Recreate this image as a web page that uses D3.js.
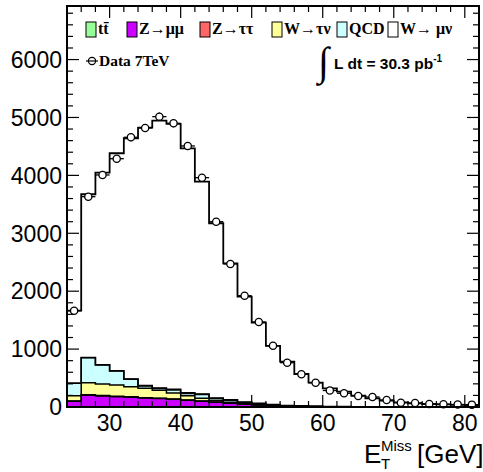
<!DOCTYPE html>
<html><head><meta charset="utf-8">
<script src="https://cdn.jsdelivr.net/npm/d3@7"></script>
<style>body{margin:0;background:#fff}svg{display:block}</style>
</head><body>
<svg id="c" width="483" height="472"></svg>
<script>
// ---- data (bins of 2 GeV from 24 to 82) ----
const binEdges = d3.range(24, 84, 2);
const xTicks = [30, 40, 50, 60, 70, 80];
const yTicks = [0, 1000, 2000, 3000, 4000, 5000, 6000];
const zmumu   = [100,205,190,178,168,155,145,132,118,100,82,65,48,35,22,14,9,6,4,3,2,2,1,1,1,0,0,0,0];
const ztautau = [4,8,8,7,7,6,6,5,5,4,3,3,2,2,1,1,1,1,0,0,0,0,0,0,0,0,0,0,0];
const wtaunu  = [91,207,199,195,175,162,139,103,72,46,27,14,14,8,5,3,2,1,1,1,1,0,1,0,0,1,0,0,0];
const qcd     = [215,431,328,242,128,40,28,55,40,65,33,33,14,13,8,4,3,2,1,1,1,1,0,1,0,0,1,1,1];
const ttbar   = [2,4,5,6,7,8,9,10,11,11,11,10,9,8,7,6,5,4,3,3,2,2,2,1,1,1,1,1,1];
const wmunu   = [1251,2819,3317,3754,4156,4453,4618,4583,4222,3665,3017,2357,1818,1390,1011,754,550,406,314,256,189,145,105,78,62,50,42,36,30];
const dataObs = [1663,3632,4007,4288,4658,4819,5014,4900,4508,3960,3200,2470,1922,1468,1059,765,565,420,285,237,190,173,121,74,69,52,47,43,41];
const legendLabels = ["tt\u0304", "Z\u2192\u03bc\u03bc", "Z\u2192\u03c4\u03c4", "W\u2192\u03c4\u03bd", "QCD", "W\u2192 \u03bc\u03bd"];

// ---- layout ----
const L = 67, R = 479, T = 6, B = 407;
const svg = d3.select("#c");
const x = d3.scaleLinear().domain([24, 82]).range([L, R]);
const y = d3.scaleLinear().domain([0, 6925]).range([B, T]);

const keys = ["zmumu","ztautau","wtaunu","qcd","ttbar","wmunu"];
const colors = {zmumu:"#cc00ff", ztautau:"#ff6666", wtaunu:"#ffff99", qcd:"#ccffff", ttbar:"#99ff99", wmunu:"#ffffff"};
const series = {zmumu, ztautau, wtaunu, qcd, ttbar, wmunu};
const rows = dataObs.map((d, i) => {
  const r = {i};
  keys.forEach(k => r[k] = series[k][i]);
  return r;
});
const stacked = d3.stack().keys(keys)(rows);

function stepPts(layer, acc) {
  const pts = [];
  layer.forEach((d, i) => {
    pts.push([binEdges[i], acc(d)]);
    pts.push([binEdges[i + 1], acc(d)]);
  });
  return pts;
}

const g = svg.append("g");
stacked.slice().reverse().forEach(layer => {
  const key = layer.key;
  const pts = stepPts(layer, d => d[1]);
  const area = d3.area().x(p => x(p[0])).y0(y(0)).y1(p => y(p[1]));
  g.append("path").attr("d", area(pts)).attr("fill", colors[key]).attr("stroke", "none");
});
stacked.forEach(layer => {
  const pts = stepPts(layer, d => d[1]);
  const line = d3.line().x(p => x(p[0])).y(p => y(p[1]));
  g.append("path").attr("d", line(pts)).attr("fill", "none")
    .attr("stroke", "#000").attr("stroke-width", layer.key === "wmunu" ? 1.8 : 1.5);
});

// data points
const pg = svg.append("g");
dataObs.forEach((v, i) => {
  const cx = x(binEdges[i] + 1), cy = y(v);
  const err = Math.sqrt(v);
  pg.append("line").attr("x1", x(binEdges[i])).attr("x2", x(binEdges[i + 1]))
    .attr("y1", cy).attr("y2", cy).attr("stroke", "#000").attr("stroke-width", 1.3);
  pg.append("line").attr("x1", cx).attr("x2", cx).attr("y1", y(v - err)).attr("y2", y(v + err))
    .attr("stroke", "#000").attr("stroke-width", 1.3);
  pg.append("circle").attr("cx", cx).attr("cy", cy).attr("r", 3.6)
    .attr("fill", "#fff").attr("stroke", "#000").attr("stroke-width", 1.3);
});

// frame
svg.append("rect").attr("x", L).attr("y", T).attr("width", R - L).attr("height", B - T)
  .attr("fill", "none").attr("stroke", "#000").attr("stroke-width", 2);

// ticks
const tk = svg.append("g").attr("stroke", "#000").attr("stroke-width", 1.2);
d3.range(0, 6925, 200).forEach(v => {
  const major = v % 1000 === 0, len = major ? 12 : 6;
  tk.append("line").attr("x1", L).attr("x2", L + len).attr("y1", y(v)).attr("y2", y(v));
  tk.append("line").attr("x1", R).attr("x2", R - len).attr("y1", y(v)).attr("y2", y(v));
});
d3.range(24, 83, 2).forEach(v => {
  const major = v % 10 === 0, len = major ? 12 : 6;
  tk.append("line").attr("x1", x(v)).attr("x2", x(v)).attr("y1", B).attr("y2", B - len);
  tk.append("line").attr("x1", x(v)).attr("x2", x(v)).attr("y1", T).attr("y2", T + len);
});

// tick labels
const lab = svg.append("g").attr("font-family", "'Liberation Sans', Arial, sans-serif").attr("font-size", 23).attr("fill", "#000");
yTicks.forEach(v => lab.append("text").attr("x", 62).attr("y", y(v)).attr("dy", "0.36em").attr("text-anchor", "end").text(v));
xTicks.forEach(v => lab.append("text").attr("x", x(v)).attr("y", 431).attr("text-anchor", "middle").text(v));

// axis title
const at = svg.append("text").attr("font-family", "'Liberation Sans', Arial, sans-serif").attr("fill", "#000");
at.append("tspan").attr("x", 364).attr("y", 463).attr("font-size", 26).text("E");
at.append("tspan").attr("x", 381).attr("y", 469).attr("font-size", 15).text("T");
at.append("tspan").attr("x", 381).attr("y", 451).attr("font-size", 15).text("Miss");
at.append("tspan").attr("x", 417).attr("y", 463).attr("font-size", 26).text("[GeV]");

// legend
const lg = svg.append("g");
const legKeys = ["ttbar","zmumu","ztautau","wtaunu","qcd","wmunu"];
const boxX = [86, 127, 200, 272, 337, 388];
legKeys.forEach((k, i) => {
  lg.append("rect").attr("x", boxX[i]).attr("y", 22).attr("width", 10).attr("height", 15)
    .attr("fill", colors[k]).attr("stroke", "#000").attr("stroke-width", 1);
  lg.append("text").attr("x", boxX[i] + 12).attr("y", 34)
    .attr("font-family", "'Liberation Serif', 'Times New Roman', serif").attr("font-weight", "bold")
    .attr("font-size", 16).attr("fill", "#000").text(legendLabels[i]);
});
// data legend entry
lg.append("circle").attr("cx", 92).attr("cy", 61).attr("r", 3.6).attr("fill", "#fff").attr("stroke", "#000").attr("stroke-width", 1.2);
lg.append("line").attr("x1", 86).attr("x2", 98).attr("y1", 61).attr("y2", 61).attr("stroke", "#000").attr("stroke-width", 1.2);
lg.append("text").attr("x", 99).attr("y", 66)
  .attr("font-family", "'Liberation Serif', 'Times New Roman', serif").attr("font-weight", "bold")
  .attr("font-size", 15.5).attr("fill", "#000").text("Data 7TeV");

// luminosity label
const lum = svg.append("text").attr("font-family", "'Liberation Sans', Arial, sans-serif").attr("font-weight", "bold").attr("fill", "#000");
lum.append("tspan").attr("x", 318).attr("y", 75).attr("font-size", 40).attr("font-weight", "normal").attr("font-family", "'Liberation Serif', serif").text("\u222B");
lum.append("tspan").attr("x", 334).attr("y", 69).attr("font-size", 15.5).text("L dt  = 30.3 pb");
lum.append("tspan").attr("dy", -7).attr("font-size", 10).text("-1");
</script>
</body></html>
